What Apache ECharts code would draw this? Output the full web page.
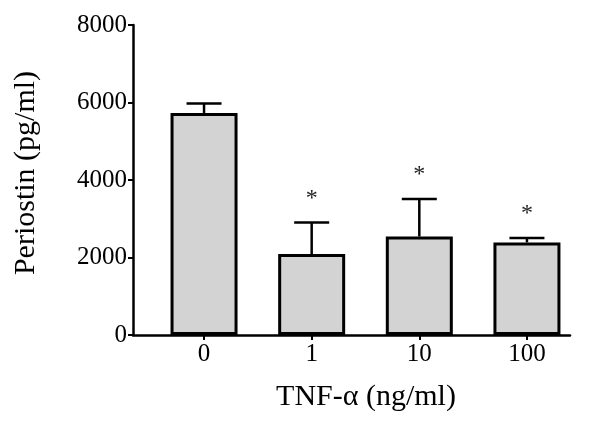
<!DOCTYPE html>
<html>
<head>
<meta charset="utf-8">
<script src="https://cdn.jsdelivr.net/npm/echarts@6/dist/echarts.min.js"></script>
<style>html,body{margin:0;padding:0;background:#fff;}#c{width:603px;height:436px;}</style>
</head>
<body>
<div id="c"></div>
<script>
var categories = ['0', '1', '10', '100'];
var means = [5730, 2090, 2540, 2390];
var errors = [245, 815, 970, 115];
var stars = ['', '*', '*', '*'];
var yTicks = [0, 2000, 4000, 6000, 8000];

var FONT = '"Liberation Serif", "Times New Roman", serif';
var idx = categories.map(function (c, i) { return i; });
var barData = means.map(function (m, i) { return [i, m]; });
var errData = means.map(function (m, i) { return [i, m + errors[i], m]; });

var chart = echarts.init(document.getElementById('c'), null, {renderer: 'canvas'});
chart.setOption({
  backgroundColor: '#ffffff',
  animation: false,
  grid: {left: 133, right: 33, top: 25, bottom: 101},
  xAxis: {
    type: 'value', min: -0.66, max: 3.4,
    name: 'TNF-α (ng/ml)', nameLocation: 'middle', nameGap: 47,
    nameTextStyle: {fontFamily: FONT, fontSize: 30, color: '#000', padding: [0, 0, 0, 29]},
    axisLine: {show: true, onZero: false, lineStyle: {color: '#000', width: 2.5}},
    axisTick: {show: true, customValues: idx, length: 5, lineStyle: {color: '#000', width: 2}},
    axisLabel: {customValues: idx, margin: 7, fontFamily: FONT, fontSize: 25, color: '#000',
      formatter: function (v) { return categories[Math.round(v)]; }},
    splitLine: {show: false}
  },
  yAxis: {
    type: 'value', min: yTicks[0], max: yTicks[yTicks.length - 1], interval: 2000,
    name: 'Periostin (pg/ml)', nameLocation: 'middle', nameGap: 92,
    nameTextStyle: {fontFamily: FONT, fontSize: 30, color: '#000', padding: [0, 0, 0, 14]},
    axisLine: {show: true, onZero: false, lineStyle: {color: '#000', width: 2.5}},
    axisTick: {show: true, length: 5, lineStyle: {color: '#000', width: 2}},
    axisLabel: {margin: 6, fontFamily: FONT, fontSize: 25, color: '#000',
      formatter: function (v) { return String(v); }},
    splitLine: {show: false}
  },
  series: [
    {
      type: 'bar', data: barData, barWidth: 67,
      itemStyle: {color: '#d3d3d3', borderColor: '#000', borderWidth: 3}
    },
    {
      type: 'custom', data: errData, clip: false,
      encode: {x: 0, y: [1, 2]},
      renderItem: function (params, api) {
        var x = api.value(0);
        var top = api.coord([x, api.value(1)]);
        var base = api.coord([x, api.value(2)]);
        var cap = 17.5;
        var children = [
          {type: 'polyline', shape: {points: [[base[0], base[1]], [top[0], top[1]]]}, style: {stroke: '#000', lineWidth: 2.5, fill: null}},
          {type: 'polyline', shape: {points: [[top[0] - cap, top[1]], [top[0] + cap, top[1]]]}, style: {stroke: '#000', lineWidth: 2.5, fill: null}}
        ];
        var s = stars[params.dataIndex];
        if (s) {
          children.push({type: 'text', style: {text: s, x: top[0], y: top[1] - 12, align: 'center', verticalAlign: 'bottom',
            font: '24px ' + FONT, fill: '#222'}});
        }
        return {type: 'group', children: children};
      },
      z: 3
    }
  ]
});
</script>
</body>
</html>
